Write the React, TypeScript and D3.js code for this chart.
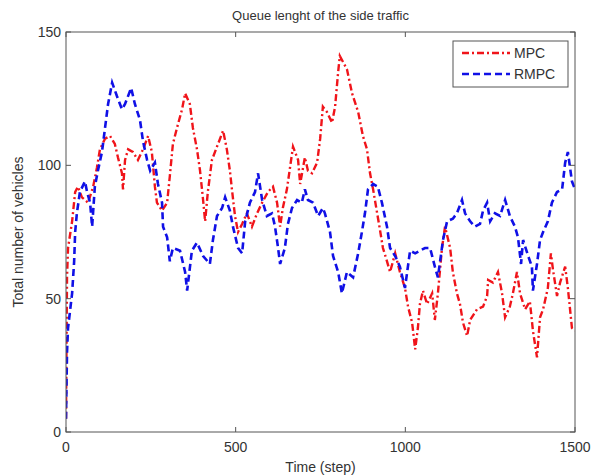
import React from 'react';
import * as d3 from 'd3';

// values (step, number of vehicles)
const mpcSteps = [0, 3, 6, 18, 27, 35, 47, 65, 80, 91, 100, 115, 130, 144, 153, 165, 168, 174, 183, 197, 212, 227, 242, 253, 262, 268, 283, 298, 306, 315, 327, 342, 351, 365, 374, 386, 395, 404, 410, 418, 430, 445, 463, 474, 483, 489, 498, 507, 519, 533, 548, 563, 578, 595, 610, 622, 631, 639, 651, 660, 669, 684, 690, 704, 713, 725, 740, 749, 757, 769, 784, 793, 802, 807, 828, 843, 861, 875, 887, 896, 905, 917, 925, 934, 946, 955, 970, 984, 999, 1008, 1020, 1029, 1037, 1043, 1052, 1064, 1079, 1087, 1096, 1108, 1117, 1132, 1140, 1152, 1161, 1170, 1182, 1191, 1211, 1229, 1241, 1244, 1258, 1273, 1285, 1294, 1308, 1317, 1329, 1338, 1353, 1367, 1376, 1388, 1397, 1406, 1420, 1429, 1435, 1447, 1456, 1471, 1479, 1491, 1500];
const mpcValues = [5, 58, 69, 79, 90, 92, 88, 86, 92, 99, 106, 110, 111, 108, 103, 97, 91, 102, 106, 105, 102, 106, 111, 105, 92, 86, 83, 86, 96, 108, 114, 121, 127, 123, 114, 106, 98, 87, 79, 90, 102, 107, 113, 106, 98, 91, 81, 75, 78, 82, 77, 82, 86, 90, 92, 86, 77, 84, 91, 99, 107, 102, 93, 103, 98, 97, 101, 110, 122, 120, 116, 122, 135, 141, 136, 127, 120, 111, 106, 97, 91, 82, 76, 69, 64, 60, 67, 60, 54, 47, 41, 31, 39, 48, 53, 48, 52, 42, 52, 69, 77, 69, 60, 52, 48, 41, 36, 42, 46, 47, 51, 57, 56, 60, 52, 43, 47, 52, 60, 52, 46, 49, 38, 28, 43, 46, 54, 67, 61, 51, 56, 62, 54, 39, 38];

const rmpcSteps = [0, 3, 6, 18, 24, 27, 32, 41, 56, 62, 71, 77, 85, 94, 106, 115, 124, 136, 150, 165, 174, 192, 203, 218, 227, 239, 248, 262, 271, 283, 286, 298, 306, 315, 336, 351, 357, 371, 386, 404, 424, 433, 445, 460, 469, 483, 492, 507, 519, 528, 542, 557, 566, 578, 592, 607, 616, 625, 631, 645, 654, 666, 681, 695, 704, 713, 728, 743, 757, 763, 778, 787, 802, 813, 828, 846, 861, 872, 881, 890, 905, 919, 931, 946, 955, 970, 984, 999, 1014, 1029, 1043, 1058, 1073, 1087, 1096, 1111, 1123, 1140, 1152, 1167, 1176, 1191, 1205, 1220, 1229, 1241, 1250, 1264, 1279, 1294, 1308, 1323, 1332, 1341, 1347, 1362, 1373, 1376, 1388, 1397, 1406, 1420, 1432, 1447, 1462, 1471, 1479, 1491, 1500];
const rmpcValues = [5, 30, 39, 52, 64, 75, 82, 90, 94, 90, 86, 77, 92, 98, 105, 114, 123, 131, 126, 121, 123, 129, 123, 117, 109, 102, 98, 101, 93, 86, 77, 73, 64, 69, 68, 60, 53, 68, 71, 66, 63, 72, 81, 84, 88, 83, 77, 69, 67, 79, 86, 90, 97, 87, 81, 82, 77, 69, 63, 69, 78, 84, 87, 86, 91, 87, 86, 81, 84, 82, 75, 66, 60, 52, 60, 58, 67, 75, 82, 91, 93, 92, 86, 77, 69, 66, 62, 54, 68, 67, 68, 69, 69, 62, 58, 72, 79, 80, 82, 87, 82, 79, 77, 78, 83, 86, 79, 82, 81, 87, 81, 77, 73, 63, 72, 66, 62, 53, 63, 72, 75, 79, 86, 90, 91, 101, 105, 94, 91];

const xTicks = [0, 500, 1000, 1500];
const yTicks = [0, 50, 100, 150];

const W = 591, H = 476;
const m = { left: 66, right: 16, top: 32, bottom: 44 };
const font = 'Arial, "Liberation Sans", Helvetica, sans-serif';
const ink = '#333';

export default function App() {
  const x = d3.scaleLinear().domain([0, 1500]).range([m.left, W - m.right]);
  const y = d3.scaleLinear().domain([0, 150]).range([H - m.bottom, m.top]);

  const line = d3.line<[number, number]>()
    .x(d => x(d[0]))
    .y(d => y(d[1]));

  const mpc = mpcSteps.map((s, i) => [s, mpcValues[i]] as [number, number]);
  const rmpc = rmpcSteps.map((s, i) => [s, rmpcValues[i]] as [number, number]);

  const x0 = x.range()[0], x1 = x.range()[1];
  const y0 = y.range()[0], y1 = y.range()[1];
  const tick = 5;

  // legend box
  const lg = { x: 453, y: 41, w: 115, h: 46 };

  return (
    <svg width={W} height={H} style={{ position: 'absolute', left: 0, top: 0, background: '#fff' }}
         fontFamily={font}>
      <rect x={0} y={0} width={W} height={H} fill="#fff" />

      <defs>
        <clipPath id="plotArea">
          <rect x={x0} y={y1} width={x1 - x0} height={y0 - y1} />
        </clipPath>
      </defs>

      <g clipPath="url(#plotArea)">
        <path d={line(mpc) || ''} fill="none" stroke="#f0141a" strokeWidth={2.4}
              strokeDasharray="7 3 2 3" />
        <path d={line(rmpc) || ''} fill="none" stroke="#1010e6" strokeWidth={2.6}
              strokeDasharray="7 4" />
      </g>

      {/* box and ticks */}
      <rect x={x0} y={y1} width={x1 - x0} height={y0 - y1} fill="none" stroke="#555" strokeWidth={1} />
      {xTicks.map(t => (
        <g key={'x' + t}>
          <line x1={x(t)} x2={x(t)} y1={y0} y2={y0 - tick} stroke="#555" />
          <line x1={x(t)} x2={x(t)} y1={y1} y2={y1 + tick} stroke="#555" />
          <text x={x(t)} y={y0 + 20} textAnchor="middle" fontSize={14} fill={ink}>{t}</text>
        </g>
      ))}
      {yTicks.map(t => (
        <g key={'y' + t}>
          <line x1={x0} x2={x0 + tick} y1={y(t)} y2={y(t)} stroke="#555" />
          <line x1={x1} x2={x1 - tick} y1={y(t)} y2={y(t)} stroke="#555" />
          <text x={x0 - 5} y={y(t) + 5} textAnchor="end" fontSize={14} fill={ink}>{t}</text>
        </g>
      ))}

      {/* titles */}
      <text x={(x0 + x1) / 2} y={20} textAnchor="middle" fontSize={13} fill={ink}>
        Queue lenght of the side traffic
      </text>
      <text x={(x0 + x1) / 2} y={H - 4} textAnchor="middle" fontSize={14} fill={ink}>
        Time (step)
      </text>
      <text transform={`translate(23,${(y0 + y1) / 2}) rotate(-90)`} textAnchor="middle" fontSize={14} fill={ink}>
        Total number of vehicles
      </text>

      {/* legend */}
      <rect x={lg.x} y={lg.y} width={lg.w} height={lg.h} fill="#fff" stroke="#555" />
      <line x1={lg.x + 9} x2={lg.x + 57} y1={lg.y + 12} y2={lg.y + 12} stroke="#f0141a" strokeWidth={2.4}
            strokeDasharray="7 3 2 3" />
      <text x={lg.x + 61} y={lg.y + 17} fontSize={14} fill={ink}>MPC</text>
      <line x1={lg.x + 9} x2={lg.x + 57} y1={lg.y + 33} y2={lg.y + 33} stroke="#1010e6" strokeWidth={2.6}
            strokeDasharray="7 4" />
      <text x={lg.x + 61} y={lg.y + 38} fontSize={14} fill={ink}>RMPC</text>
    </svg>
  );
}
